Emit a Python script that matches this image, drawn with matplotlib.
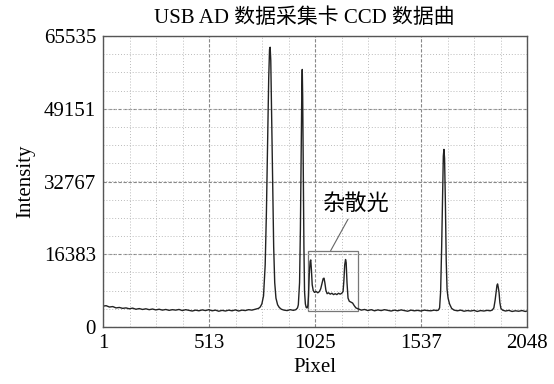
import matplotlib
matplotlib.use("Agg")
import matplotlib.pyplot as plt
from matplotlib.patches import Rectangle
from matplotlib.ticker import FixedLocator, MultipleLocator

plt.rcParams["font.family"] = ["Liberation Serif", "Noto Sans CJK SC"]

# CCD readout (pixel index, intensity counts)
pixel = [
    1, 16, 32, 48, 64, 80, 96, 112, 128, 144, 160, 176,
    192, 208, 224, 240, 256, 272, 288, 304, 320, 336, 352, 368,
    384, 400, 416, 432, 448, 464, 480, 496, 512, 528, 544, 560,
    576, 592, 608, 624, 640, 656, 672, 688, 704, 720, 736, 752,
    760, 768, 776, 784, 790, 796, 801, 805, 808, 811, 815, 820,
    825, 830, 836, 844, 852, 862, 875, 890, 905, 920, 932, 940,
    944, 950, 954, 958, 961, 963, 965, 968, 971, 974, 978, 982,
    986, 990, 993, 997, 1001, 1004, 1007, 1011, 1016, 1022, 1030, 1038,
    1046, 1052, 1058, 1064, 1068, 1072, 1077, 1083, 1090, 1098, 1106, 1114,
    1122, 1130, 1138, 1146, 1154, 1160, 1164, 1168, 1172, 1175, 1179, 1184,
    1190, 1198, 1206, 1214, 1222, 1232, 1248, 1264, 1280, 1296, 1312, 1328,
    1344, 1360, 1376, 1392, 1408, 1424, 1440, 1456, 1472, 1488, 1504, 1520,
    1536, 1552, 1568, 1584, 1600, 1612, 1620, 1626, 1631, 1636, 1641, 1644,
    1647, 1650, 1654, 1658, 1662, 1667, 1674, 1684, 1696, 1712, 1728, 1744,
    1760, 1776, 1792, 1808, 1824, 1840, 1856, 1870, 1880, 1888, 1894, 1899,
    1903, 1906, 1909, 1913, 1917, 1922, 1930, 1944, 1960, 1976, 1992, 2008,
    2024, 2040, 2048,
]
intensity = [
    4700, 4800, 4500, 4600, 4300, 4400, 4200, 4300, 4100, 4250, 4000, 4150,
    3950, 4100, 3900, 4050, 3850, 4000, 3800, 3950, 3750, 3900, 3800, 3950,
    3700, 3900, 3750, 3600, 3800, 3650, 3850, 3700, 3900, 3650, 3800, 3550,
    3750, 3600, 3800, 3650, 3850, 3600, 3800, 3700, 3900, 3800, 4000, 4200,
    4500, 5200, 7000, 14000, 26000, 42000, 56000, 62500, 63000, 60000, 48000, 32000,
    18000, 10000, 6500, 5000, 4400, 4000, 3800, 3700, 3900, 3750, 3900, 4300,
    5000, 10000, 22000, 40000, 54000, 58000, 52000, 36000, 18000, 8000, 5200, 4400,
    4300, 4800, 7000, 12000, 14800, 15100, 13000, 9500, 8200, 7800, 8000, 7700,
    8000, 8600, 9800, 10900, 11000, 10000, 8300, 7500, 7700, 7400, 7600, 7300,
    7500, 7300, 7600, 7400, 7600, 8000, 10500, 14000, 15200, 14500, 10000, 6500,
    5800, 5600, 5400, 4800, 4300, 4100, 3800, 3950, 3700, 3900, 3650, 3850,
    3700, 3900, 3750, 3600, 3800, 3650, 3850, 3700, 3550, 3800, 3650, 3750,
    3600, 3800, 3700, 3650, 3800, 3700, 3800, 4300, 8000, 18000, 31000, 38500,
    40000, 38000, 28000, 15000, 8500, 6500, 5200, 4200, 3800, 3650, 3800, 3550,
    3700, 3600, 3750, 3500, 3700, 3600, 3750, 3650, 3800, 4300, 6000, 8000,
    9400, 9700, 9000, 7800, 5500, 4200, 3800, 3600, 3750, 3500, 3650, 3550,
    3700, 3500, 3600,
]

x_ticks = [1, 513, 1025, 1537, 2048]
y_ticks = [0, 16383, 32767, 49151, 65535]

# stray light region marked on the chart
stray_x = [991, 1233]
stray_y = [3600, 17180]

fig = plt.figure(figsize=(5.54, 3.84), dpi=100)
ax = fig.add_axes([103 / 554, 1 - 327 / 384, 424 / 554, 291 / 384])

ax.plot(pixel, intensity, color="#222222", linewidth=1.0)

ax.set_xlim(1, 2048)
ax.set_ylim(0, 65535)
ax.xaxis.set_major_locator(FixedLocator(x_ticks))
ax.yaxis.set_major_locator(FixedLocator(y_ticks))
ax.xaxis.set_minor_locator(FixedLocator([1 + 128 * i for i in range(1, 16)]))
ax.yaxis.set_minor_locator(MultipleLocator(4096))
ax.grid(which="major", color="#888888", linestyle=(0, (3, 1.5)), linewidth=0.8)
ax.grid(which="minor", color="#bbbbbb", linestyle=(0, (1, 2)), linewidth=0.7)
ax.tick_params(which="both", length=0, labelsize=15, pad=5)
for s in ax.spines.values():
    s.set_color("#555555")
    s.set_linewidth(1.0)

ax.add_patch(Rectangle((stray_x[0], stray_y[0]), stray_x[1] - stray_x[0],
                       stray_y[1] - stray_y[0], fill=False,
                       edgecolor="#777777", linewidth=0.9))
ax.annotate("杂散光", xy=(1100, stray_y[1]), xytext=(1222, 27500),
            fontsize=16, ha="center", va="center",
            arrowprops=dict(arrowstyle="-", color="#666666", linewidth=0.8,
                            shrinkA=1, shrinkB=0))

ax.set_xlabel("Pixel", fontsize=15, labelpad=4)
ax.set_ylabel("Intensity", fontsize=15, labelpad=6)
fig.text(304 / 554, 1 - 18 / 384, "USB AD 数据采集卡 CCD 数据曲",
         fontsize=15, ha="center", va="center")

fig.savefig("out.png", dpi=100)
